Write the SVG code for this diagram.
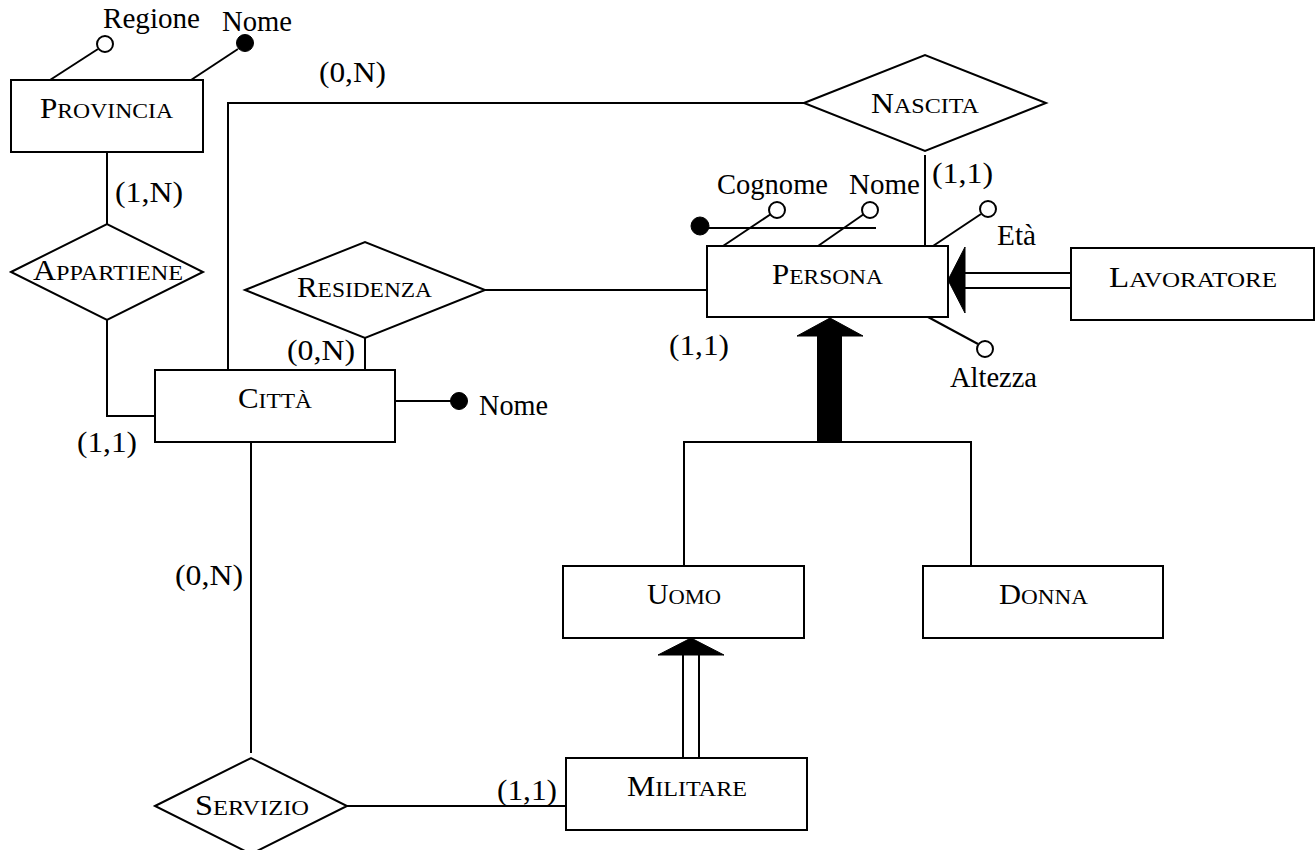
<svg xmlns="http://www.w3.org/2000/svg" width="1316" height="850" viewBox="0 0 1316 850">
<style>
.box{fill:#fff;stroke:#000;stroke-width:2}
.ln{fill:none;stroke:#000;stroke-width:2}
.open{fill:#fff;stroke:#000;stroke-width:2}
.fill{fill:#000;stroke:#000;stroke-width:1}
text{font-family:"Liberation Serif","Times New Roman",serif;fill:#000}
.t{font-size:29.5px}
.lb{font-size:29px}
.sc{font-size:22px}
</style>
<rect width="1316" height="850" fill="#fff"/>
<g id="connectors">
<line class="ln" x1="107" y1="152" x2="107" y2="224"/>
<polyline class="ln" points="107,320 107,416 155,416"/>
<polyline class="ln" points="228,370 228,103 804,103"/>
<line class="ln" x1="925" y1="155" x2="925" y2="250"/>
<line class="ln" x1="485" y1="290" x2="707" y2="290"/>
<line class="ln" x1="365" y1="338" x2="365" y2="370"/>
<line class="ln" x1="251" y1="442" x2="251" y2="753"/>
<line class="ln" x1="347" y1="806" x2="566" y2="806"/>
<polygon class="fill" points="830,318 797,336 863,336"/>
<rect x="817" y="335" width="25" height="107" fill="#000"/>
<polyline class="ln" points="684,566 684,442 971,442 971,566"/>
<line class="ln" x1="964" y1="273" x2="1071" y2="273"/>
<line class="ln" x1="964" y1="288" x2="1071" y2="288"/>
<polygon class="fill" points="948,280 965,247 965,313"/>
<line class="ln" x1="683" y1="655" x2="683" y2="758"/>
<line class="ln" x1="699" y1="655" x2="699" y2="758"/>
<polygon class="fill" points="691,638 658,655 724,655"/>
</g>
<g id="provincia">
<rect class="box" x="11" y="80" width="192" height="72"/>
<text x="40" y="118" textLength="133" lengthAdjust="spacingAndGlyphs" class="lb">P<tspan class="sc">ROVINCIA</tspan></text>
<line class="ln" x1="50" y1="80" x2="98" y2="49"/>
<circle class="open" cx="105" cy="44" r="8"/>
<text class="t" x="103" y="28" textLength="97" lengthAdjust="spacingAndGlyphs">Regione</text>
<line class="ln" x1="191" y1="80" x2="238" y2="49"/>
<circle class="fill" cx="245" cy="43" r="8.5"/>
<text class="t" x="222" y="31" textLength="70" lengthAdjust="spacingAndGlyphs">Nome</text>
</g>
<g id="appartiene">
<polygon class="box" points="11,272 107,224 203,272 107,320"/>
<text x="33" y="280" textLength="150" lengthAdjust="spacingAndGlyphs" class="lb">A<tspan class="sc">PPARTIENE</tspan></text>
<text class="t" x="115" y="202" textLength="68" lengthAdjust="spacingAndGlyphs">(1,N)</text>
</g>
<g id="nascita">
<polygon class="box" points="804,103 925,55 1046,103 925,151"/>
<text x="871" y="113" textLength="108" lengthAdjust="spacingAndGlyphs" class="lb">N<tspan class="sc">ASCITA</tspan></text>
<text class="t" x="319" y="82" textLength="67" lengthAdjust="spacingAndGlyphs">(0,N)</text>
<text class="t" x="932" y="183" textLength="61" lengthAdjust="spacingAndGlyphs">(1,1)</text>
</g>
<g id="residenza">
<polygon class="box" points="245,290 365,242 485,290 365,338"/>
<text x="297" y="297" textLength="135" lengthAdjust="spacingAndGlyphs" class="lb">R<tspan class="sc">ESIDENZA</tspan></text>
<text class="t" x="287" y="360" textLength="68" lengthAdjust="spacingAndGlyphs">(0,N)</text>
<text class="t" x="669" y="355" textLength="60" lengthAdjust="spacingAndGlyphs">(1,1)</text>
</g>
<g id="citta">
<rect class="box" x="155" y="370" width="240" height="72"/>
<text x="238" y="408" textLength="74" lengthAdjust="spacingAndGlyphs" class="lb">C<tspan class="sc">ITTÀ</tspan></text>
<line class="ln" x1="395" y1="401" x2="451" y2="401"/>
<circle class="fill" cx="459" cy="401" r="8.5"/>
<text class="t" x="479" y="415" textLength="69" lengthAdjust="spacingAndGlyphs">Nome</text>
<text class="t" x="77" y="452" textLength="60" lengthAdjust="spacingAndGlyphs">(1,1)</text>
</g>
<g id="persona">
<rect class="box" x="707" y="246" width="241" height="71"/>
<text x="772" y="284" textLength="111" lengthAdjust="spacingAndGlyphs" class="lb">P<tspan class="sc">ERSONA</tspan></text>
<line class="ln" x1="700" y1="228" x2="876" y2="228"/>
<circle class="fill" cx="700" cy="226" r="9"/>
<line class="ln" x1="723" y1="246" x2="771" y2="214"/>
<circle class="open" cx="777" cy="210" r="8"/>
<text class="t" x="717" y="194" textLength="111" lengthAdjust="spacingAndGlyphs">Cognome</text>
<line class="ln" x1="818" y1="246" x2="864" y2="214"/>
<circle class="open" cx="870" cy="210" r="8"/>
<text class="t" x="849" y="194" textLength="71" lengthAdjust="spacingAndGlyphs">Nome</text>
<line class="ln" x1="933" y1="246" x2="981" y2="214"/>
<circle class="open" cx="988" cy="209" r="8"/>
<text class="t" x="997" y="245" textLength="39" lengthAdjust="spacingAndGlyphs">Età</text>
<line class="ln" x1="928" y1="317" x2="978" y2="344"/>
<circle class="open" cx="985" cy="349" r="8"/>
<text class="t" x="950" y="387" textLength="87" lengthAdjust="spacingAndGlyphs">Altezza</text>
</g>
<g id="lavoratore">
<rect class="box" x="1071" y="248" width="243" height="72"/>
<text x="1109" y="287" textLength="168" lengthAdjust="spacingAndGlyphs" class="lb">L<tspan class="sc">AVORATORE</tspan></text>
</g>
<g id="uomo">
<rect class="box" x="563" y="566" width="241" height="72"/>
<text x="647" y="604" textLength="74" lengthAdjust="spacingAndGlyphs" class="lb">U<tspan class="sc">OMO</tspan></text>
</g>
<g id="donna">
<rect class="box" x="923" y="566" width="240" height="72"/>
<text x="999" y="604" textLength="89" lengthAdjust="spacingAndGlyphs" class="lb">D<tspan class="sc">ONNA</tspan></text>
</g>
<g id="militare">
<rect class="box" x="566" y="758" width="241" height="72"/>
<text x="627" y="796" textLength="120" lengthAdjust="spacingAndGlyphs" class="lb">M<tspan class="sc">ILITARE</tspan></text>
<text class="t" x="497" y="800" textLength="60" lengthAdjust="spacingAndGlyphs">(1,1)</text>
</g>
<g id="servizio">
<polygon class="box" points="155,806 251,758 347,806 251,854"/>
<text x="195" y="815" textLength="114" lengthAdjust="spacingAndGlyphs" class="lb">S<tspan class="sc">ERVIZIO</tspan></text>
<text class="t" x="175" y="585" textLength="68" lengthAdjust="spacingAndGlyphs">(0,N)</text>
</g>
</svg>
